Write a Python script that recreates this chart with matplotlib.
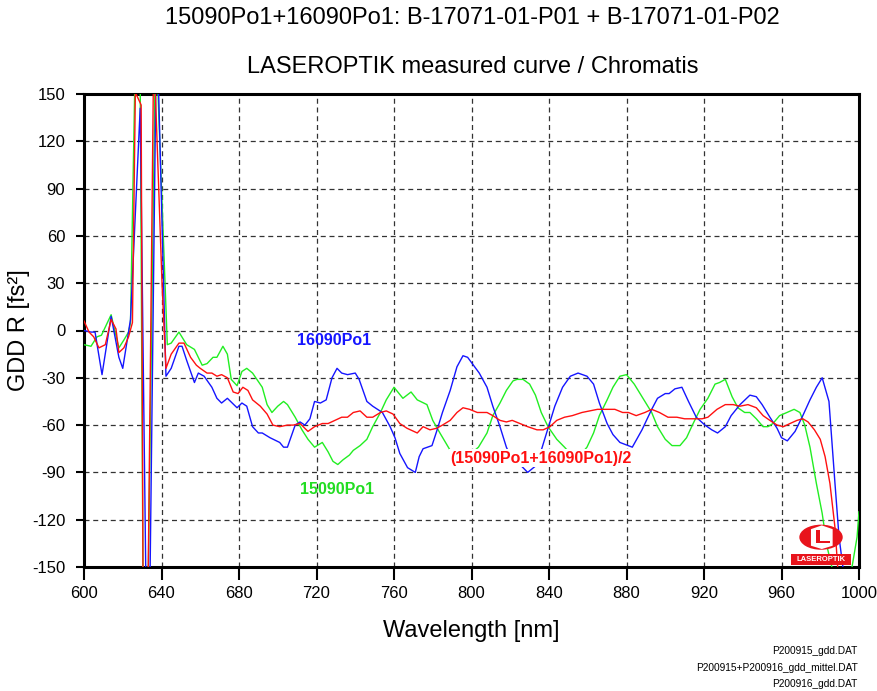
import matplotlib
matplotlib.use("Agg")
import matplotlib.pyplot as plt
from matplotlib.patches import Ellipse, Rectangle, Polygon
import numpy as np

plt.rcParams["font.family"] = ["Liberation Sans", "DejaVu Sans"]
plt.rcParams["axes.unicode_minus"] = False

# Curva 16090Po1 (azul)
wl_blue = [600, 603.6, 605.7, 609.3, 614, 618, 620, 624, 629, 632,
           634, 637.5, 642.3, 645, 649, 650.6, 653, 657, 659, 662,
           666, 668.6, 671, 674, 679, 681.5, 684, 687, 690, 692,
           696, 701, 703, 705, 709, 711.5, 714, 716.6, 719, 722,
           725, 728, 730.6, 733, 736, 740, 742, 746, 749, 754,
           758, 760.5, 763, 767, 771, 773, 775, 779.6, 782, 785,
           789, 792.5, 795.6, 798, 801, 804, 808, 811, 814.7, 818,
           821, 825, 829, 833, 836, 839.5, 843, 847, 851, 855,
           859.6, 863, 866, 870, 873, 876.6, 883, 888, 893, 896,
           900, 902, 905, 908.6, 912, 916, 920.5, 924, 927, 931,
           934, 938.6, 943.7, 947, 950, 954, 957.7, 960, 963, 967,
           971, 974.7, 978, 981, 984.5, 987.6, 989.7, 991.7, 995]
gdd_blue = [0, -1, -1, -28, 9, -17, -24, 7, 141, -165,
            -165, 200, -29, -24, -10, -10, -19, -33, -27, -29,
            -36, -43, -46, -43, -49, -46, -48, -61, -65, -65,
            -68, -71, -74, -74, -60, -58, -60, -56, -45, -46,
            -44, -30, -24, -27, -28, -27, -31, -45, -48, -52,
            -61, -68, -78, -87, -90, -80, -75, -73, -64, -52,
            -38, -23, -16, -17, -22, -27, -36, -48, -61, -74,
            -82, -85, -90, -86, -76, -62, -48, -36, -29, -27,
            -29, -34, -46, -59, -66, -71, -74, -63, -50, -43,
            -40, -40, -37, -36, -45, -55, -60, -63, -65, -61,
            -54, -47, -41, -42, -47, -55, -62, -68, -70, -64,
            -54, -44, -36, -30, -45, -97, -131, -150, -190]

# Curva 15090Po1 (verde)
wl_green = [600, 603.6, 606.7, 609, 614, 615.5, 618, 620.6, 623, 624,
            626.5, 629, 630.5, 633, 637, 643, 645, 649, 653, 657,
            661, 663.5, 666.6, 668.6, 671.7, 674, 676, 679, 681.5, 684,
            687, 692, 694.5, 697, 700, 703, 705, 709, 712.5, 715.6,
            719, 723, 726, 728.5, 731, 733.7, 737, 739, 742.5, 746,
            749, 753, 756, 760, 764.6, 768.8, 772, 777, 780, 783.7,
            789, 796, 803.6, 808, 811, 814.7, 818, 821.4, 823.5, 826.6,
            830, 833, 836, 839.5, 844, 848, 854, 859.6, 863, 866,
            870, 873, 876.6, 880, 884, 888.5, 893, 896, 900, 903.5,
            907.6, 911, 914, 918, 922, 925.7, 928, 931, 934.5, 937.5,
            941, 943.7, 947, 950.5, 953, 955.6, 959, 962.8, 966.5, 969.5,
            972, 974.7, 978, 981, 983.5, 986, 991, 996.4, 999, 1000]
gdd_green = [-9, -10, -4, -3, 10, 2, -11, -6, -1, 5,
             175, 160, -170, -170, 190, -9, -8, -1, -9, -12,
             -22, -21, -17, -17, -10, -15, -31, -35, -26, -24,
             -27, -36, -47, -52, -48, -45, -47, -55, -63, -69,
             -74, -71, -77, -83, -85, -82, -79, -76, -73, -69,
             -61, -52, -44, -36, -43, -39, -44, -47, -57, -65,
             -76, -82, -74, -65, -54, -46, -38, -32, -31, -31,
             -34, -41, -52, -61, -69, -74, -82, -74, -65, -54,
             -44, -36, -29, -28, -34, -43, -52, -61, -69, -73,
             -73, -68, -60, -50, -43, -34, -33, -31, -42, -49,
             -52, -52, -56, -61, -61, -59, -54, -52, -50, -52,
             -60, -74, -97, -116, -137, -150, -175, -150, -131, -115]

# Média (15090Po1+16090Po1)/2 (vermelho)
wl_red = [600, 602.6, 605, 607.7, 611, 614, 616.5, 618, 620.6, 623,
          625, 626.5, 629.5, 630.5, 633, 636, 640.3, 642.3, 645, 649,
          651.6, 655, 658, 660, 663.5, 666, 668.6, 671, 674, 677,
          679.5, 682, 684.6, 687, 691, 694.5, 697.5, 701, 705, 708,
          711.5, 715.6, 719, 723, 726, 729.5, 733, 736, 739, 742.5,
          746, 749, 753, 756, 759.5, 763, 766.7, 772, 775, 778.6,
          782, 785, 789, 792.5, 795.6, 799, 803, 808, 811, 814.7,
          818, 821, 825, 829, 833.8, 837, 840.5, 844, 848, 852,
          857, 861, 865, 870, 874, 878, 881, 885, 889.5, 893,
          897, 901.4, 906, 910, 914, 919, 922, 926.7, 931, 935,
          938.6, 942.7, 947, 950.5, 954, 957.7, 961, 964.4, 968, 971,
          973.7, 977, 980, 982.5, 985, 987.6, 989, 992]
gdd_red = [6, -1, -4, -11, -9, 7, 1, -14, -11, -4,
           5, 151, 143, -170, -170, 180, 29, -24, -15, -8,
           -8, -17, -22, -24, -27, -27, -29, -28, -30, -39,
           -40, -36, -38, -44, -48, -53, -60, -61, -60, -60,
           -59, -64, -61, -59, -59, -57, -55, -55, -52, -51,
           -55, -55, -52, -51, -53, -59, -62, -65, -61, -63,
           -62, -60, -57, -52, -49, -50, -52, -52, -54, -57,
           -58, -57, -59, -61, -63, -63, -61, -57, -55, -54,
           -52, -51, -50, -50, -50, -52, -52, -54, -52, -50,
           -52, -55, -55, -56, -56, -56, -55, -50, -47, -47,
           -48, -47, -49, -54, -57, -60, -61, -59, -57, -56,
           -58, -63, -69, -80, -97, -125, -150, -180]

xticks = np.arange(600, 1001, 40)
yticks = np.arange(-150, 151, 30)

fig = plt.figure(figsize=(8.78, 6.91), dpi=100)
ax = fig.add_axes([84 / 878, 1 - 567 / 691, 775 / 878, 473 / 691])

ax.plot(wl_green, gdd_green, color="#22ee22", lw=1.0, zorder=3)
ax.plot(wl_blue, gdd_blue, color="#1515ff", lw=1.0, zorder=3)
ax.plot(wl_red, gdd_red, color="#ff1010", lw=1.0, zorder=4)

ax.set_xlim(600, 1000)
ax.set_ylim(-150, 150)
ax.set_xticks(xticks)
ax.set_yticks(yticks)
ax.tick_params(axis="both", direction="out", labelsize=12, width=1.5)
ax.tick_params(axis="x", length=9, pad=4.5)
ax.tick_params(axis="y", length=6, pad=7.5)
ax.grid(True, color="#333333", linestyle=(0, (4, 3)), linewidth=0.9)
for s in ax.spines.values():
    s.set_linewidth(2.2)

ax.set_xlabel("Wavelength [nm]", fontsize=17, labelpad=14)
fig.text(0.022, 0.522, "GDD R [fs²]", fontsize=17, rotation=90,
         ha="center", va="center")

fig.text(0.538, 0.974, "15090Po1+16090Po1: B-17071-01-P01 + B-17071-01-P02",
         fontsize=17, ha="center", va="center")
fig.text(0.538, 0.903, "LASEROPTIK measured curve / Chromatis",
         fontsize=17, ha="center", va="center")

# Rótulos das curvas
ax.text(710, -6.5, "16090Po1", color="#1515ff", fontsize=11.5,
        fontweight="bold", va="center", zorder=6)
ax.text(711.5, -101, "15090Po1", color="#22dd22", fontsize=11.5,
        fontweight="bold", va="center", zorder=6)
ax.text(789, -81, "(15090Po1+16090Po1)/2", color="#ff1010", fontsize=11.5,
        fontweight="bold", va="center", zorder=6,
        bbox=dict(facecolor="white", edgecolor="none", pad=1.0))

# Logo LASEROPTIK
ax.add_patch(Ellipse((0.951, 0.063), 0.056, 0.053, transform=ax.transAxes,
                     facecolor="#e8141c", edgecolor="none", zorder=7))
ax.add_patch(Polygon([[0.938, 0.045], [0.938, 0.080], [0.952, 0.088],
                      [0.966, 0.080], [0.966, 0.045], [0.952, 0.038]],
                     closed=True, transform=ax.transAxes,
                     facecolor="white", edgecolor="none", zorder=8))
ax.add_patch(Polygon([[0.944, 0.050], [0.944, 0.078], [0.950, 0.078],
                      [0.950, 0.056], [0.962, 0.056], [0.962, 0.050]],
                     closed=True, transform=ax.transAxes,
                     facecolor="#e8141c", edgecolor="none", zorder=9))
ax.add_patch(Rectangle((0.912, 0.004), 0.078, 0.0235, transform=ax.transAxes,
                       facecolor="#e8141c", edgecolor="none", zorder=7))
ax.text(0.951, 0.016, "LASEROPTIK", transform=ax.transAxes, color="white",
        fontsize=5.5, fontweight="bold", ha="center", va="center", zorder=8)

# Nomes dos arquivos
for yy, nome in zip([0.058, 0.034, 0.010],
                    ["P200915_gdd.DAT", "P200915+P200916_gdd_mittel.DAT",
                     "P200916_gdd.DAT"]):
    fig.text(0.977, yy, nome, fontsize=7.3, ha="right", va="center")

fig.savefig("out.png", dpi=100)
